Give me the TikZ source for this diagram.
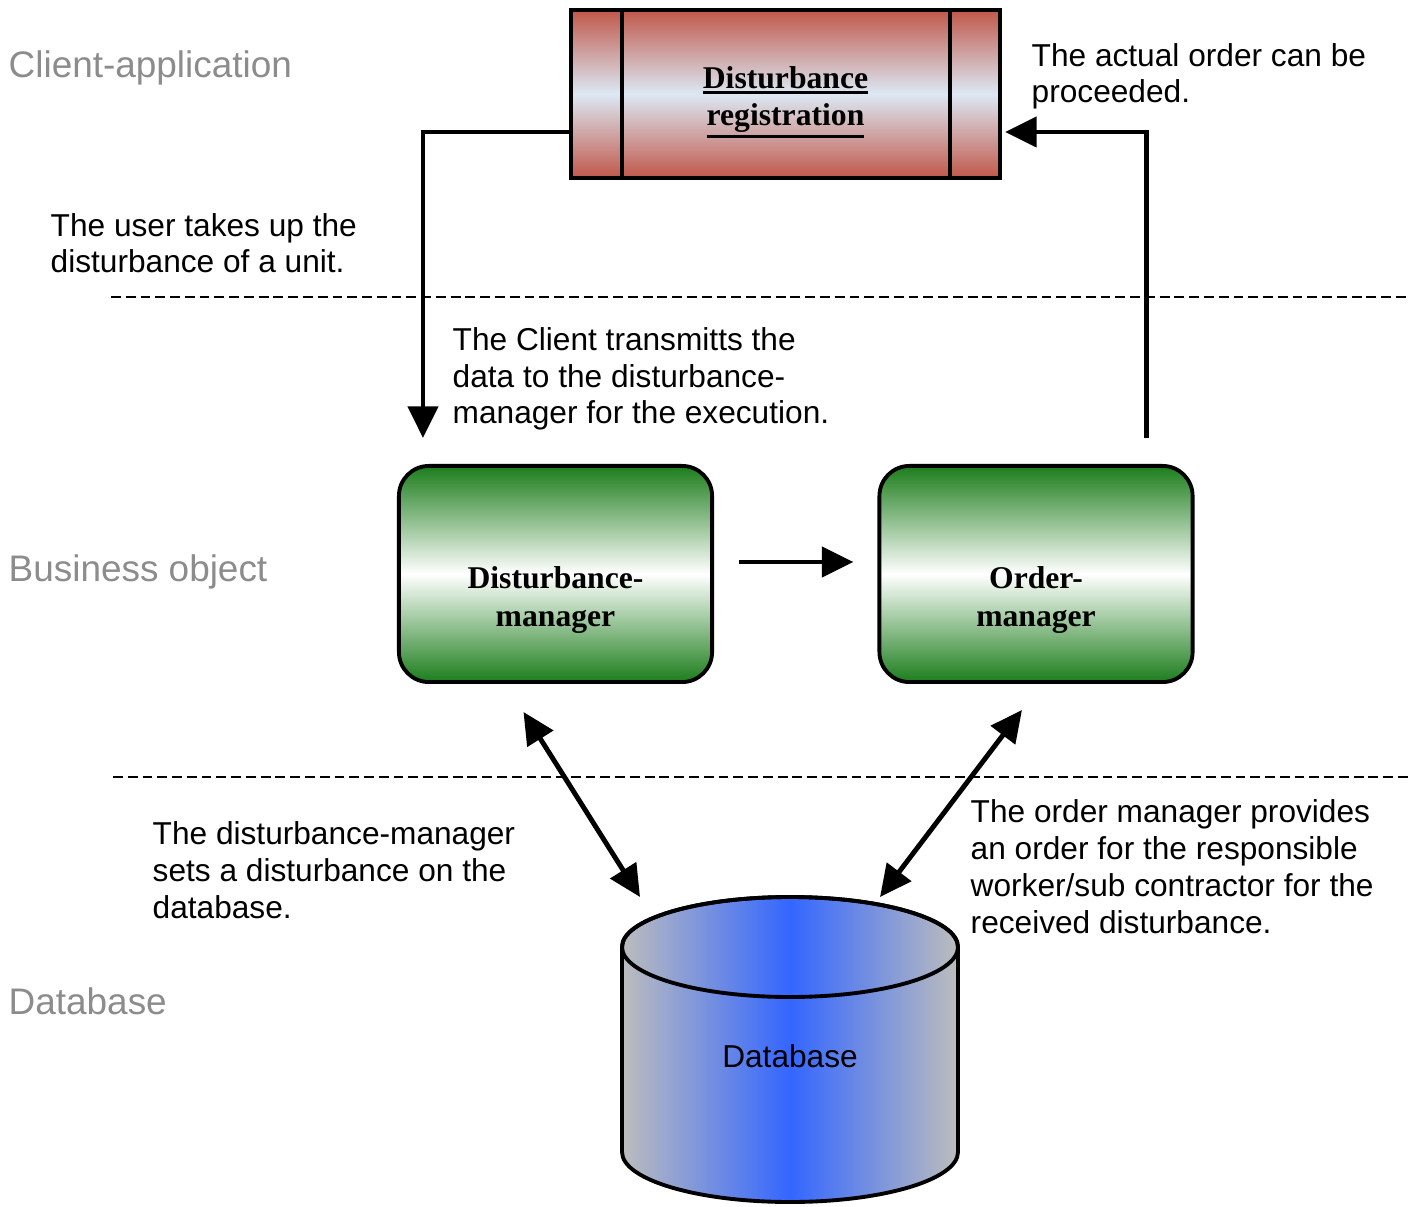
\documentclass[tikz,border=0pt]{standalone}
\usepackage{fontspec}
\setmainfont{Liberation Sans}
\newfontfamily\serifbox{Liberation Serif}
\usetikzlibrary{arrows.meta,calc}

\definecolor{regred}{HTML}{C0584A}
\definecolor{regblue}{HTML}{DCE8F4}
\definecolor{mgrgreen}{HTML}{1C7D1C}
\definecolor{dbblue}{HTML}{3366FF}
\definecolor{dbgray}{HTML}{BDBDBD}
\definecolor{layergray}{HTML}{8C8C8C}

\newcommand{\thickul}[1]{\vtop{\hbox{#1}\kern0.6pt\hrule height 0.9pt}}

\begin{document}
\begin{tikzpicture}[x=0.01cm,y=-0.01cm]
	\useasboundingbox (0,0) rectangle (1419,1207);

	% layer names and separators
	\begin{scope}[every node/.style={anchor=base west,inner sep=0pt,text=layergray,font=\fontsize{10.5}{12.6}\selectfont}]
	    \node (client) at (8,78) {Client-application};
	    \node (business) at (8,582) {Business object};
	    \node (database) at (8,1014) {Database};
	\end{scope}
	\draw[line width=0.55pt,dash pattern=on 2.8pt off 1.4pt] (111,297) -- (1410,297);
	\draw[line width=0.55pt,dash pattern=on 2.8pt off 1.4pt] (113,777) -- (1410,777);

	% the three boxes
	\begin{scope}[every node/.style={draw,line width=1.1pt}]
	    \node[minimum width=4.29cm,minimum height=1.68cm,top color=regred,bottom color=regred,middle color=regblue] (reg) at (785.5,94) {};
	    \node[rounded corners=0.3cm,minimum width=3.13cm,minimum height=2.16cm,top color=mgrgreen,bottom color=mgrgreen,middle color=white] (dm) at (555.5,574) {};
	    \node[rounded corners=0.3cm,minimum width=3.13cm,minimum height=2.16cm,top color=mgrgreen,bottom color=mgrgreen,middle color=white] (om) at (1036,574) {};
	\end{scope}
	\draw[line width=1.1pt] ($(reg.north west)+(53,0)$) -- ($(reg.south west)+(53,0)$);
	\draw[line width=1.1pt] ($(reg.north east)+(-52,0)$) -- ($(reg.south east)+(-52,0)$);
	\begin{scope}[every node/.style={align=center,font=\serifbox\bfseries\fontsize{9}{10.7}\selectfont}]
	    \node (regtext) at ($(reg.center)+(0,8)$) {\thickul{Disturbance}\\\thickul{registration}};
	    \node (dmtext) at ($(dm.center)+(0,26)$) {Disturbance-\\manager};
	    \node (omtext) at ($(om.center)+(0,26)$) {Order-\\manager};
	\end{scope}

	% database
	\coordinate (dbtop) at (790,897);
	\path[draw,line width=1.1pt,left color=dbgray,right color=dbgray,middle color=dbblue]
	    (622,947) -- (622,1152) arc[start angle=180,end angle=0,x radius=168,y radius=50]
	    -- (958,947) arc[start angle=0,end angle=-180,x radius=168,y radius=50] -- cycle;
	\draw[line width=1.1pt] (790,947) ellipse[x radius=168,y radius=50];
	\node[font=\fontsize{9}{10.5}\selectfont] (dbtext) at (790,1056) {Database};

	% connectors
	\begin{scope}[>={Triangle[length=9pt,width=8.5pt]},line width=1.4pt]
	    \draw[->] ($(reg.south west)+(0,-48)$) -| ($(dm.north west)+(26,-26)$);
	    \draw[->] ($(om.north east)+(-48,-26)$) |- ($(reg.south east)+(3,-48)$);
	    \path[->] ($(dm.east)+(25,-12)$) edge ($(om.west)+(-24,-12)$);
	    \path[<->] ($(dm.south)+(-32,28)$) edge ($(dbtop)+(-150,0)$);
	    \path[<->] ($(om.south)+(-14,26)$) edge ($(dbtop)+(90,0)$);
	\end{scope}

	% notes (anchored at the last line)
	\begin{scope}[every node/.style={align=left,anchor=base west,inner sep=0pt,font=\fontsize{9}{10.5}\selectfont}]
	    \node (noteorder) at (1031,103) {The actual order can be\\proceeded.};
	    \node (noteuser) at (50,273) {The user takes up the\\disturbance of a unit.};
	    \node (noteclient) at (452,424) {The Client transmitts the\\data to the disturbance-\\manager for the execution.};
	    \node (notedm) at (152,918) {The disturbance-manager\\sets a disturbance on the\\database.};
	    \node (noteom) at (970,933) {The order manager provides\\an order for the responsible\\worker/sub contractor for the\\received disturbance.};
	\end{scope}
\end{tikzpicture}
\end{document}
